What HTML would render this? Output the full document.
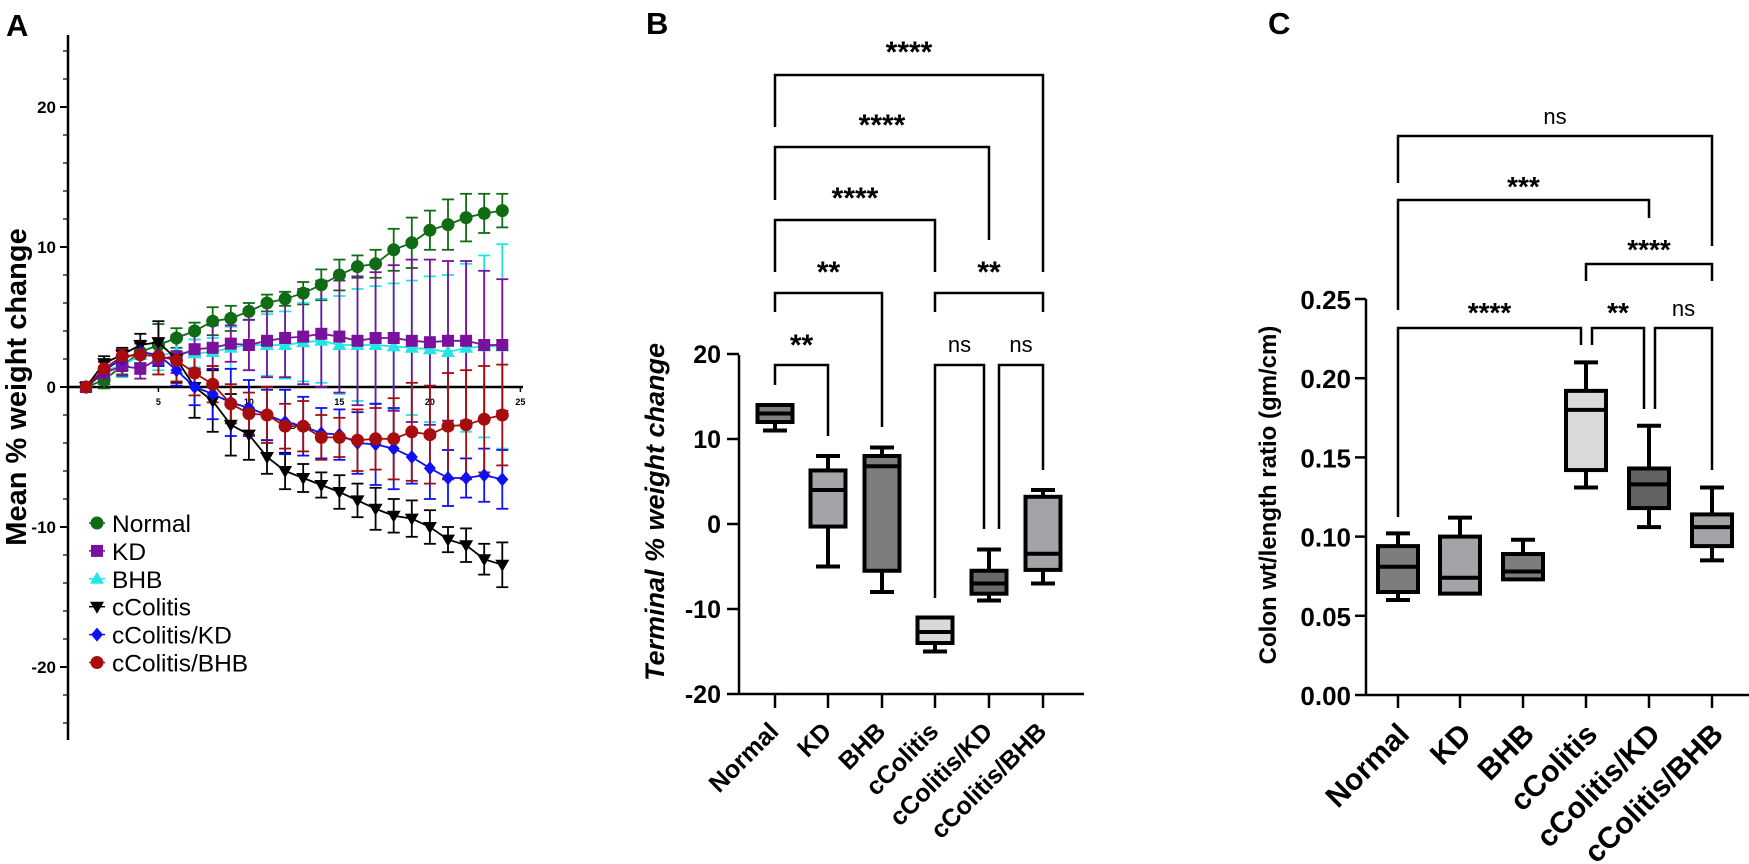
<!DOCTYPE html>
<html><head><meta charset="utf-8"><style>
html,body{margin:0;padding:0;background:#fff}
svg{display:block}
text{font-family:"Liberation Sans",Arial,sans-serif}
</style></head><body>
<svg id="s" width="1749" height="864" viewBox="0 0 1749 864" xmlns="http://www.w3.org/2000/svg">
<text x="6" y="36" font-size="31" font-weight="bold">A</text>
<text x="646" y="34" font-size="31" font-weight="bold">B</text>
<text x="1268" y="34" font-size="31" font-weight="bold">C</text>
<text transform="translate(26,387) rotate(-90)" text-anchor="middle" font-size="29" font-weight="bold">Mean % weight change</text>
<text transform="translate(664,512) rotate(-90)" text-anchor="middle" font-size="27" font-weight="bold" font-style="italic">Terminal % weight change</text>
<text transform="translate(1276,495) rotate(-90)" text-anchor="middle" font-size="24" font-weight="bold">Colon wt/length ratio (gm/cm)</text>
<g id="g"></g>
</svg>
<script>
const NS="http://www.w3.org/2000/svg",G=document.getElementById('g');
function el(t,a,txt){const e=document.createElementNS(NS,t);for(const k in a)e.setAttribute(k,a[k]);if(txt!==undefined)e.textContent=txt;G.appendChild(e);return e;}
function line(x1,y1,x2,y2,w,c){el('line',{x1,y1,x2,y2,stroke:c||'#000','stroke-width':w||2});}
function poly(pts,w,c){el('polyline',{points:pts.map(p=>p.join(',')).join(' '),fill:'none',stroke:c||'#000','stroke-width':w||2});}
// ---- Panel A ----
const ax=d=>86+(d-1)*18.1, ay=v=>387-14*v;
line(68,35,68,740,2.5);
for(let v=-24;v<=24;v+=2){const y=ay(v);const maj=v%10==0;line(maj?60:63,y,68,y,maj?2:1.2);}
[20,10,0,-10,-20].forEach(v=>el('text',{x:56,y:ay(v)+6,'text-anchor':'end','font-size':17,'font-weight':'bold'},String(v)));
line(68,387,523,387,2.5);
[5,10,15,20,25].forEach(d=>{line(ax(d),387,ax(d),392,1.5);el('text',{x:ax(d),y:405,'text-anchor':'middle','font-size':9,'font-weight':'bold'},String(d));});
el('text',{x:290,y:429,'font-size':9,'font-weight':'bold'},'Days');
const S=[
{c:'#0f6b14',m:'circle',v:[0,0.5,1.5,2.5,3,3.5,4,4.7,4.9,5.4,6,6.3,6.7,7.3,8,8.6,8.8,9.8,10.3,11.2,11.6,12.1,12.4,12.6],e:[0.3,0.6,0.6,0.8,1.5,0.7,0.6,1,0.9,0.6,0.6,0.5,0.8,1.1,1.1,0.8,1,1.5,1.8,1.4,1.8,1.7,1.4,1.2]},
{c:'#22e6e6',m:'tri',v:[0,1.2,1.5,2.3,2.2,2.5,2.4,2.5,2.8,3,3,3,3.2,3.3,3,3,3,2.9,2.8,2.7,2.5,2.8,2.9,2.9],e:[0.3,0.8,0.8,0.8,1,1,1,1,1.5,1.8,2.2,2.4,2.8,3,3.5,4,4.2,4.5,4.8,5.2,5.5,6,6.5,7.3]},
{c:'#7a119c',m:'sq',v:[0,1,1.5,1.3,2,2.2,2.7,2.8,3.1,3,3.3,3.5,3.6,3.8,3.6,3.3,3.5,3.5,3.3,3.2,3.3,3.3,3,3],e:[0.3,0.8,0.7,0.7,1.1,1.2,1.5,1.6,1.3,1.8,2.6,2.8,3.4,3.8,4,4.6,4.7,5.2,5.8,5.9,5.7,5.7,5.3,4.7]},
{c:'#000',m:'dtri',v:[0,1.7,2.3,3,3.2,2,0,-1,-2.7,-3.4,-5,-6,-6.5,-7,-7.5,-8.1,-8.7,-9.2,-9.4,-10,-10.9,-11.3,-12.3,-12.7],e:[0.3,0.5,0.5,0.8,1.5,1.7,2.2,2.2,2.2,1.8,1.2,1.3,1,0.9,1.2,1.2,1.5,1.2,1.3,1.2,0.9,1.2,1.1,1.6]},
{c:'#1010f5',m:'dia',v:[0,1.2,2,2.5,2.3,1.2,0,-0.5,-1.1,-1.5,-2,-2.5,-2.8,-3.3,-3.4,-4,-4.1,-4.4,-5,-5.8,-6.5,-6.5,-6.3,-6.6],e:[0.3,0.6,0.7,0.8,0.8,1.1,1.3,1.8,2.4,2,1.8,2.3,2.1,1.8,1.8,2.2,2.9,2.9,1.9,2.2,2,1.4,1.9,2.1]},
{c:'#a80d0d',m:'circle',v:[0,1.3,2.2,2.3,2.2,1.9,1,0.2,-1.2,-1.9,-2,-2.8,-2.8,-3.6,-3.6,-3.8,-3.7,-3.7,-3.2,-3.4,-2.8,-2.7,-2.3,-2],e:[0.3,0.5,0.5,0.8,1.3,1.5,1.6,1.3,1.4,1.5,2,1.6,1.8,1.6,1.4,2.2,2.2,2.9,3.5,3.5,3.8,3.9,3.8,3.6]}
];
function marker(m,x,y,c){
 if(m=='circle')el('circle',{cx:x,cy:y,r:6.5,fill:c});
 else if(m=='sq')el('rect',{x:x-6,y:y-6,width:12,height:12,fill:c});
 else if(m=='tri')el('polygon',{points:`${x},${y-7} ${x-7},${y+5} ${x+7},${y+5}`,fill:c});
 else if(m=='dtri')el('polygon',{points:`${x},${y+7} ${x-7},${y-5} ${x+7},${y-5}`,fill:c});
 else el('polygon',{points:`${x},${y-7} ${x+6},${y} ${x},${y+7} ${x-6},${y}`,fill:c});
}
S.forEach(s=>{
 s.v.forEach((v,i)=>{const x=ax(i+1),y1=ay(v+s.e[i]),y2=ay(v-s.e[i]);line(x,y1,x,y2,1.8,s.c);line(x-6,y1,x+6,y1,1.8,s.c);line(x-6,y2,x+6,y2,1.8,s.c);});
});
S.forEach(s=>{
 poly(s.v.map((v,i)=>[ax(i+1),ay(v)]),1.8,s.c);
 s.v.forEach((v,i)=>marker(s.m,ax(i+1),ay(v),s.c));
});
const L=[['Normal',0,'circle'],['KD',2,'sq'],['BHB',1,'tri'],['cColitis',3,'dtri'],['cColitis/KD',4,'dia'],['cColitis/BHB',5,'circle']];
L.forEach((l,i)=>{const y=523+i*27.9,c=S[l[1]].c;line(89,y,105,y,1.5,c);marker(l[2],97,y,c);el('text',{x:112,y:y+9,'font-size':24.5},l[0]);});
// ---- Box helpers ----
function box(x,hw,yq1,yq3,ymed,ylo,yhi,fill){
 if(yhi<yq3-1){line(x,yhi,x,yq3,4);line(x-12,yhi,x+12,yhi,4);}
 if(ylo>yq1+1){line(x,yq1,x,ylo,4);line(x-12,ylo,x+12,ylo,4);}
 el('rect',{x:x-hw,y:yq3,width:2*hw,height:yq1-yq3,fill:fill,stroke:'#000','stroke-width':4});
 line(x-hw,ymed,x+hw,ymed,4);
}
function br(x1,x2,y,l1,l2,txt,ty,fs){poly([[x1,l1],[x1,y],[x2,y],[x2,l2]],2.5);el('text',{x:(x1+x2)/2,y:ty,'text-anchor':'middle','font-size':fs||30,'font-weight':txt=='ns'?'normal':'bold'},txt);}
function xlab(x,y,t,fs){el('text',{transform:`translate(${x},${y}) rotate(-45)`,'text-anchor':'end','font-size':fs,'font-weight':'bold'},t);}
const names=['Normal','KD','BHB','cColitis','cColitis/KD','cColitis/BHB'];
// ---- Panel B ----
const by=v=>524-8.5*v, bx=[775,828,882,935,989,1043];
line(739,355,739,695,2.5);line(739,694,1084,694,2.5);
[20,10,0,-10,-20].forEach(v=>{line(727,by(v),739,by(v),2.5);el('text',{x:721,y:by(v)+9,'text-anchor':'end','font-size':25,'font-weight':'bold'},String(v));});
bx.forEach((x,i)=>{line(x,694,x,708,2.5);xlab(x+5,733,names[i],25);});
const BB=[[12,14,13,11,14,'#7d7d7d'],[-0.3,6.3,4,-5,8,'#a3a3a8'],[-5.5,8,6.8,-8,9,'#7d7d7d'],[-14,-11,-12.7,-15,-11,'#d9d9d9'],[-8.2,-5.5,-7,-9,-3,'#6a6a6a'],[-5.4,3.2,-3.5,-7,4,'#a3a3a8']];
BB.forEach((b,i)=>box(bx[i],17.5,by(b[0]),by(b[1]),by(b[2]),by(b[3]),by(b[4]),b[5]));
br(775,1043,75,127,272,'****',62);
br(775,989,147,200,240,'****',135);
br(775,935,220,272,272,'****',208);
br(775,882,293,312,427,'**',282);
br(935,1043,293,312,312,'**',282);
br(775,828,365,385,436,'**',355);
br(935,984,365,598,529,'ns',352,22);
br(999,1043,365,529,470,'ns',352,22);
// ---- Panel C ----
const cy=v=>695-1584*v, cx=[1398,1460,1523,1586,1649,1712];
line(1366,299,1366,696,2.5);line(1366,695,1749,695,2.5);
[0.25,0.2,0.15,0.1,0.05,0].forEach(v=>{line(1355,cy(v),1366,cy(v),2.5);el('text',{x:1351,y:cy(v)+10,'text-anchor':'end','font-size':26,'font-weight':'bold'},v.toFixed(2));});
cx.forEach((x,i)=>{line(x,695,x,708,2.5);xlab(x+13,736,names[i],30);});
const CB=[[0.065,0.094,0.081,0.06,0.102,'#7d7d7d'],[0.064,0.1,0.074,0.064,0.112,'#a3a3a8'],[0.073,0.089,0.078,0.073,0.098,'#7d7d7d'],[0.142,0.192,0.18,0.131,0.21,'#d9d9d9'],[0.118,0.143,0.133,0.106,0.17,'#626262'],[0.094,0.114,0.106,0.085,0.131,'#a3a3a8']];
CB.forEach((b,i)=>box(cx[i],20,cy(b[0]),cy(b[1]),cy(b[2]),cy(b[3]),cy(b[4]),b[5]));
br(1398,1712,136,183,246,'ns',124,22);
br(1398,1649,200,310,218,'***',196,28);
br(1586,1712,264,281,281,'****',259,28);
br(1398,1581,328,517,345,'****',322,28);
br(1592,1644,328,345,409,'**',322,28);
br(1655,1712,328,409,470,'ns',316,22);
</script>
</body></html>
